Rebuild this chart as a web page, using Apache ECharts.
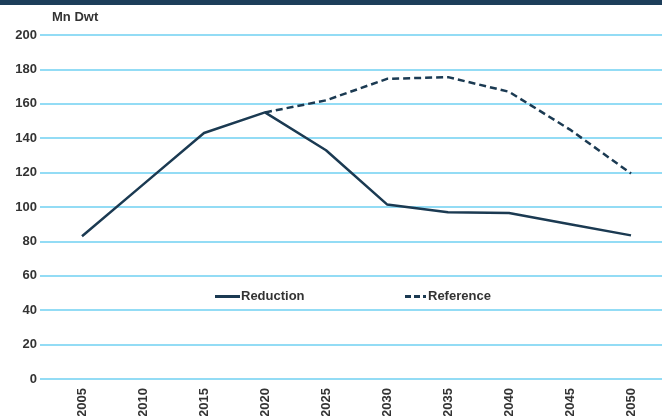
<!DOCTYPE html>
<html><head><meta charset="utf-8">
<script src="https://cdn.jsdelivr.net/npm/echarts@6/dist/echarts.min.js"></script>
<style>html,body{margin:0;padding:0;background:#fff}#c{width:662px;height:416px}</style>
</head><body><div id="c"></div>
<script>
const years = ['2005','2010','2015','2020','2025','2030','2035','2040','2045','2050'];
const reduction = [83, 113, 143, 155, 133, 101.5, 97, 96.5, 90, 83.5];
const reference = [null, null, null, 155, 162, 174.5, 175.5, 167, 145, 119.5];
const yTicks = [0, 20, 40, 60, 80, 100, 120, 140, 160, 180, 200];

const navy = '#1b3a52';
const grid = '#6fd0f2';
const font = 'Liberation Sans, Arial, sans-serif';
const chart = echarts.init(document.getElementById('c'));
chart.setOption({
  animation: false,
  graphic: [
    {type:'rect', shape:{x:0,y:0,width:662,height:5}, style:{fill:'#1d3e5a'}},
    {type:'text', left:52, top:11, style:{text:'Mn Dwt', font:'bold 13px ' + font, fill:'#333'}}
  ],
  grid: [
    {left:40, right:0, top:35, height:344, containLabel:false, outerBoundsMode:'none'},
    {left:51.5, right:0.5, top:35, height:344, containLabel:false, outerBoundsMode:'none'}
  ],
  xAxis: [
    {gridIndex:0, type:'value', show:false, min:0, max:1},
    {gridIndex:1, type:'category', data:years, boundaryGap:true,
     axisLine:{show:false}, axisTick:{show:false},
     axisLabel:{rotate:90, margin:9, fontFamily:font, fontWeight:'bold', fontSize:13, color:'#333'}}
  ],
  yAxis: [
    {gridIndex:0, type:'value', min:yTicks[0], max:yTicks[yTicks.length-1], interval:20,
     axisLine:{show:false}, axisTick:{show:false},
     axisLabel:{margin:3, fontFamily:font, fontWeight:'bold', fontSize:13, color:'#333'},
     splitLine:{lineStyle:{color:grid, width:1.5}}},
    {gridIndex:1, type:'value', min:0, max:200, show:false, splitLine:{show:false}}
  ],
  legend: [
    {top: 285, left: 210, itemWidth: 25, itemHeight: 3,
     icon: 'path://M0,0H25V3H0Z',
     textStyle:{fontFamily:font, fontWeight:'bold', fontSize:13, color:'#333', padding:[0,0,0,-4]},
     data:['Reduction']},
    {top: 285, left: 400, itemWidth: 21, itemHeight: 3,
     icon: 'path://M0,0H6V3H0Z M9,0H15V3H9Z M18,0H21V3H18Z',
     textStyle:{fontFamily:font, fontWeight:'bold', fontSize:13, color:'#333', padding:[0,0,0,-3]},
     data:['Reference']}
  ],
  series: [
    {name:'Reduction', type:'line', xAxisIndex:1, yAxisIndex:1, data:reduction,
     symbol:'none', z:3, lineStyle:{color:navy, width:2.5}, itemStyle:{color:navy}},
    {name:'Reference', type:'line', xAxisIndex:1, yAxisIndex:1, data:reference,
     symbol:'none', z:2, lineStyle:{color:navy, width:2.5, type:[7,4]}, itemStyle:{color:navy}}
  ]
});
</script></body></html>
